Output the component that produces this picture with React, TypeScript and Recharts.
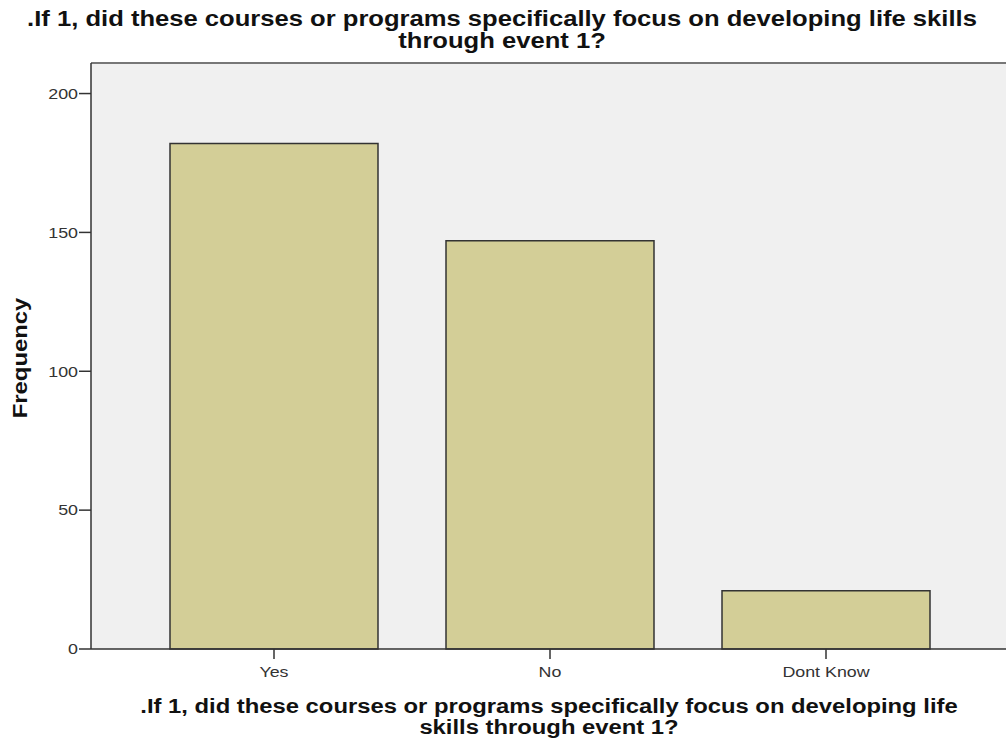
import { Bar, BarChart, CartesianGrid, ReferenceLine, XAxis, YAxis } from "recharts";

const categories = ["Yes", "No", "Dont Know"];
const frequencies = [182, 147, 21];
const yTicks = [0, 50, 100, 150, 200];

const titleLines = [
  ".If 1, did these courses or programs specifically focus on developing life skills",
  "through event 1?",
];
const xTitleLines = [
  ".If 1, did these courses or programs specifically focus on developing life",
  "skills through event 1?",
];

const data = categories.map((c, i) => ({ category: c, frequency: frequencies[i] }));

const font = "Arial, 'Liberation Sans', sans-serif";
const stretch = 1.19; // SPSS output text is a bit wider than plain Arial

function StretchTick(props: any) {
  const { x, y, payload, textAnchor, vertical } = props;
  const dy = vertical ? "0.35em" : "0.95em";
  return (
    <text
      x={x}
      y={y}
      dy={dy}
      textAnchor={textAnchor}
      fontSize={15}
      fontFamily={font}
      fill="#333"
      transform={`translate(${x},0) scale(${stretch},1) translate(${-x},0)`}
    >
      {payload.value}
    </text>
  );
}

export default function App() {
  return (
    <div
      style={{
        position: "absolute",
        left: 0,
        top: 0,
        width: 1006,
        height: 746,
        background: "#fff",
        fontFamily: font,
        overflow: "hidden",
      }}
    >
      <div
        style={{
          position: "absolute",
          top: 8,
          left: 0,
          width: 1006,
          textAlign: "center",
          fontWeight: "bold",
          fontSize: 21.5,
          lineHeight: "22px",
          color: "#111",
          whiteSpace: "nowrap",
          transform: `translateX(-1px) scaleX(${stretch})`,
        }}
      >
        {titleLines.map((t) => (
          <div key={t}>{t}</div>
        ))}
      </div>
      <div
        style={{
          position: "absolute",
          top: 696,
          left: 46,
          width: 1006,
          textAlign: "center",
          fontWeight: "bold",
          fontSize: 20,
          lineHeight: "21px",
          color: "#111",
          whiteSpace: "nowrap",
          transform: `scaleX(${stretch})`,
        }}
      >
        {xTitleLines.map((t) => (
          <div key={t}>{t}</div>
        ))}
      </div>
      <div
        style={{
          position: "absolute",
          left: 20,
          top: 358,
          transform: `translate(-50%, -50%) rotate(-90deg) scaleX(${stretch})`,
          fontWeight: "bold",
          fontSize: 20,
          color: "#111",
          whiteSpace: "nowrap",
        }}
      >
        Frequency
      </div>
      <div style={{ position: "absolute", left: 0, top: 0 }}>
        <BarChart
          width={1006}
          height={746}
          data={data}
          margin={{ top: 63, right: 0, left: 0, bottom: 0 }}
          barSize={208}
        >
          <CartesianGrid fill="#F0F0F0" horizontal={false} vertical={false} />
          <XAxis
            dataKey="category"
            height={97}
            padding={{ left: 45, right: 42 }}
            axisLine={{ stroke: "#333", strokeWidth: 1.5 }}
            tickLine={{ stroke: "#333", strokeWidth: 1.5 }}
            tickSize={10}
            tickMargin={4}
            tick={<StretchTick />}
          />
          <YAxis
            width={91}
            domain={[0, 211]}
            ticks={yTicks}
            interval={0}
            axisLine={{ stroke: "#333", strokeWidth: 1.5 }}
            tickLine={{ stroke: "#333", strokeWidth: 1.5 }}
            tickSize={12}
            tickMargin={1}
            tick={<StretchTick vertical />}
          />
          <ReferenceLine y={211} stroke="#777" strokeWidth={2} />
          <Bar
            dataKey="frequency"
            fill="#D3CE97"
            stroke="#333"
            strokeWidth={1.5}
            isAnimationActive={false}
          />
        </BarChart>
      </div>
    </div>
  );
}
